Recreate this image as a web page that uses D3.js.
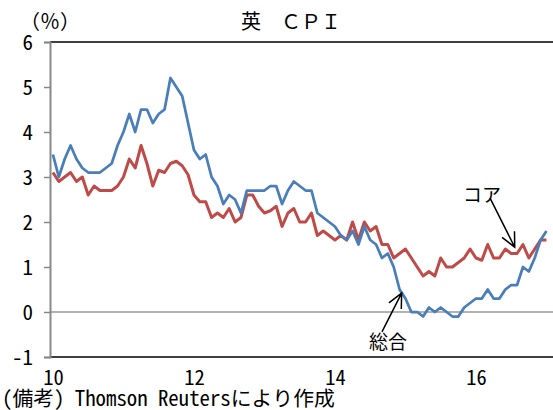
<!DOCTYPE html>
<html>
<head>
<meta charset="utf-8">
<script src="https://cdnjs.cloudflare.com/ajax/libs/d3/7.8.5/d3.min.js"></script>
<style>
body{margin:0;background:#fff;}
svg text{font-family:"Noto Sans Mono CJK JP","Noto Sans CJK JP",monospace;fill:#000;}
</style>
</head>
<body>
<svg width="553" height="410"></svg>
<script>
// monthly, Jan 2010 - Jan 2017 (y/y %)
var headline = [
	3.5, 3.0, 3.4, 3.7, 3.4, 3.2, 3.1, 3.1, 3.1, 3.2, 3.3, 3.7,
	4.0, 4.4, 4.0, 4.5, 4.5, 4.2, 4.4, 4.5, 5.2, 5.0, 4.8, 4.2,
	3.6, 3.4, 3.5, 3.0, 2.8, 2.4, 2.6, 2.5, 2.2, 2.7, 2.7, 2.7,
	2.7, 2.8, 2.8, 2.4, 2.7, 2.9, 2.8, 2.7, 2.7, 2.2, 2.1, 2.0,
	1.9, 1.7, 1.6, 1.8, 1.5, 1.9, 1.6, 1.5, 1.2, 1.3, 1.0, 0.5,
	0.3, 0.0, 0.0, -0.1, 0.1, 0.0, 0.1, 0.0, -0.1, -0.1, 0.1, 0.2,
	0.3, 0.3, 0.5, 0.3, 0.3, 0.5, 0.6, 0.6, 1.0, 0.9, 1.2, 1.6,
	1.8
];
var core = [
	3.1, 2.9, 3.0, 3.1, 2.9, 3.0, 2.6, 2.8, 2.7, 2.7, 2.7, 2.8,
	3.0, 3.4, 3.2, 3.7, 3.3, 2.8, 3.15, 3.1, 3.3, 3.35, 3.25, 3.05,
	2.6, 2.45, 2.45, 2.1, 2.2, 2.1, 2.3, 2.0, 2.1, 2.6, 2.6, 2.35,
	2.2, 2.25, 2.35, 1.9, 2.2, 2.3, 2.0, 2.0, 2.2, 1.7, 1.8, 1.7,
	1.6, 1.7, 1.6, 2.0, 1.6, 2.0, 1.8, 1.9, 1.5, 1.5, 1.2, 1.3,
	1.4, 1.2, 1.0, 0.8, 0.9, 0.8, 1.2, 1.0, 1.0, 1.1, 1.2, 1.4,
	1.2, 1.15, 1.5, 1.2, 1.2, 1.4, 1.3, 1.3, 1.5, 1.2, 1.4, 1.6,
	1.6
];
var xTicks = [0, 24, 48, 72];
var xLabels = ['10', '12', '14', '16'];
var yTicks = [-1, 0, 1, 2, 3, 4, 5, 6];
var yLabels = ['-1', '0', '1', '2', '3', '4', '5', '6'];

// annotations in data units: [index, value]
var notes = [
	{text: 'コア', at: [69.8, 2.44], from: [74.4, 2.53], to: [78.6, 1.44]},
	{text: '総合', at: [53.8, -0.82], from: [56.0, -0.44], to: [59.35, 0.42]}
];

(function(){
var svg = d3.select('svg');
var pl = 50, pr = 549.4, pt = 42, pb = 357;

var x = d3.scaleLinear().domain([-0.5, headline.length - 0.5]).range([pl, pr]);
var y = d3.scaleLinear().domain([-1, 6]).range([pb, pt]);

// frame lines
svg.append('line').attr('x1', pl).attr('x2', 553).attr('y1', pt).attr('y2', pt)
	.style('stroke', '#000').style('stroke-width', 1.5);
svg.append('line').attr('x1', pl).attr('x2', 553).attr('y1', pb).attr('y2', pb)
	.style('stroke', '#000').style('stroke-width', 1.5);
svg.append('line').attr('x1', pl).attr('x2', 553).attr('y1', y(0)).attr('y2', y(0))
	.style('stroke', '#999').style('stroke-width', 1.5);

// y axis
var yAxis = svg.append('g').attr('transform', 'translate(' + pl + ',0)')
	.call(d3.axisLeft(y).tickValues(yTicks).tickSize(6).tickPadding(11)
		.tickFormat(function(d, i){ return yLabels[i]; }));
yAxis.select('.domain').style('stroke', '#888').style('stroke-width', 2);
yAxis.selectAll('.tick line').style('stroke', '#888').style('stroke-width', 1.5);
yAxis.selectAll('text').attr('font-size', 21).attr('font-family', null).attr('dy', '0.36em');

// x axis labels
var xAxis = svg.append('g').attr('transform', 'translate(0,' + pb + ')')
	.call(d3.axisBottom(x).tickValues(xTicks).tickSize(0).tickPadding(13)
		.tickFormat(function(d, i){ return xLabels[i]; }));
xAxis.select('.domain').remove();
xAxis.selectAll('text').attr('font-size', 20.5).attr('font-family', null);

// series
var line = d3.line().x(function(d, i){ return x(i); }).y(function(d){ return y(d); });
svg.append('path').datum(core).attr('d', line)
	.style('fill', 'none').style('stroke', '#BE4B48').style('stroke-width', 3).style('stroke-linejoin', 'round');
svg.append('path').datum(headline).attr('d', line)
	.style('fill', 'none').style('stroke', '#4A7EBB').style('stroke-width', 2.75).style('stroke-linejoin', 'round');

// annotations
notes.forEach(function(n){
	var x1 = x(n.from[0]), y1 = y(n.from[1]), x2 = x(n.to[0]), y2 = y(n.to[1]);
	var a = Math.atan2(y1 - y2, x1 - x2), len = 16, sp = 0.45;
	svg.append('path')
		.attr('d', 'M' + x1 + ',' + y1 + 'L' + x2 + ',' + y2 +
			'M' + (x2 + len * Math.cos(a - sp)) + ',' + (y2 + len * Math.sin(a - sp)) +
			'L' + x2 + ',' + y2 +
			'L' + (x2 + len * Math.cos(a + sp)) + ',' + (y2 + len * Math.sin(a + sp)))
		.style('fill', 'none').style('stroke', '#000').style('stroke-width', 1.5);
	svg.append('text').attr('x', x(n.at[0])).attr('y', y(n.at[1]))
		.attr('font-size', 19).text(n.text);
});

// titles
svg.append('text').attr('x', 241).attr('y', 29).attr('font-size', 20).text('英　ＣＰＩ');
svg.append('text').attr('x', 20).attr('y', 29).attr('font-size', 20).text('（％）');
svg.append('text').attr('x', 2).attr('y', 406).attr('font-size', 20.8).text('(備考) Thomson Reutersにより作成');
})();
</script>
</body>
</html>
